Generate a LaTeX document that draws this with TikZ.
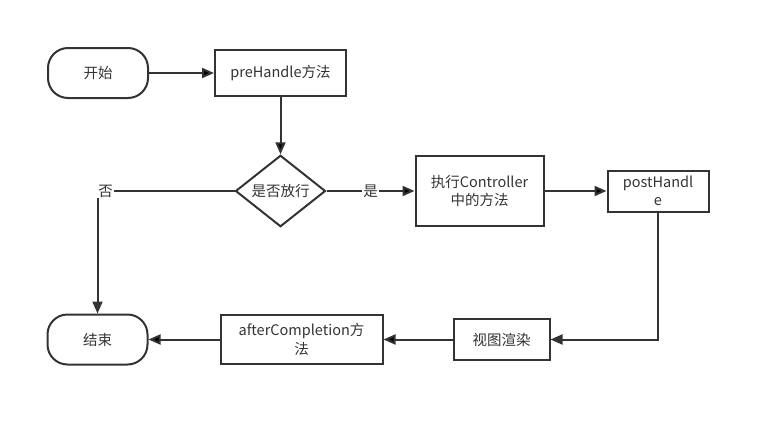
\documentclass[tikz,border=0pt]{standalone}
\usepackage{fontspec}
\setmainfont{Noto Sans CJK SC}
\usetikzlibrary{positioning}
\usetikzlibrary{shapes,shapes.geometric,arrows.meta}
\definecolor{ink}{HTML}{333333}

\begin{document}
\begin{tikzpicture}[x=1pt,y=-1pt,on grid,
    every node/.style={font=\fontsize{14.5}{18.5}\selectfont, text=ink},
    term/.style={draw=ink, line width=2pt, rounded corners=20pt, minimum width=100pt, minimum height=50pt},
    proc/.style={draw=ink, line width=2pt, align=center, inner sep=2pt},
    decision/.style={draw=ink, line width=2pt, diamond, minimum width=90pt, minimum height=70pt, inner sep=0pt},
    flow/.style={draw=ink, line width=2pt, -{Triangle[length=12pt,width=10pt]}},
    lbl/.style={fill=white, inner sep=1pt}]
    \useasboundingbox (0,0) rectangle (771,426);
     \node[term] (start) at (98,73) {开始};
      \node[proc, minimum width=131pt, minimum height=46pt] (pre_handle) [right=182.5pt of start] {preHandle方法};
      \node[decision] (decide) [below=118pt of pre_handle] {是否放行};
      \node[proc, minimum width=128pt, minimum height=70pt] (controller) [right=199pt of decide] {执行Controller\\中的方法};
      \node[proc, minimum width=101pt, minimum height=41pt] (post_handle) [right=178.5pt of controller] {postHandl\\e};
      \node[proc, minimum width=96pt, minimum height=41pt] (render) [below left=148.5pt and 156.5pt of post_handle] {视图渲染};
      \node[proc, minimum width=162pt, minimum height=49pt] (after_completion) [left=200pt of render] {afterCompletion方\\法};
      \node[term] (finish) [left=204pt of after_completion] {结束};

      \path[flow]
      (start) edge (pre_handle)
      (pre_handle) edge (decide)
      (decide) edge node[lbl, pos=0.5] {是} (controller)
      (controller) edge (post_handle)
      (render) edge (after_completion)
      (after_completion) edge (finish)
      ;
      \draw[flow] (decide) -| node[lbl, pos=0.47] {否} (finish);
      \draw[flow] (post_handle) |- (render);
  \end{tikzpicture}
\end{document}
